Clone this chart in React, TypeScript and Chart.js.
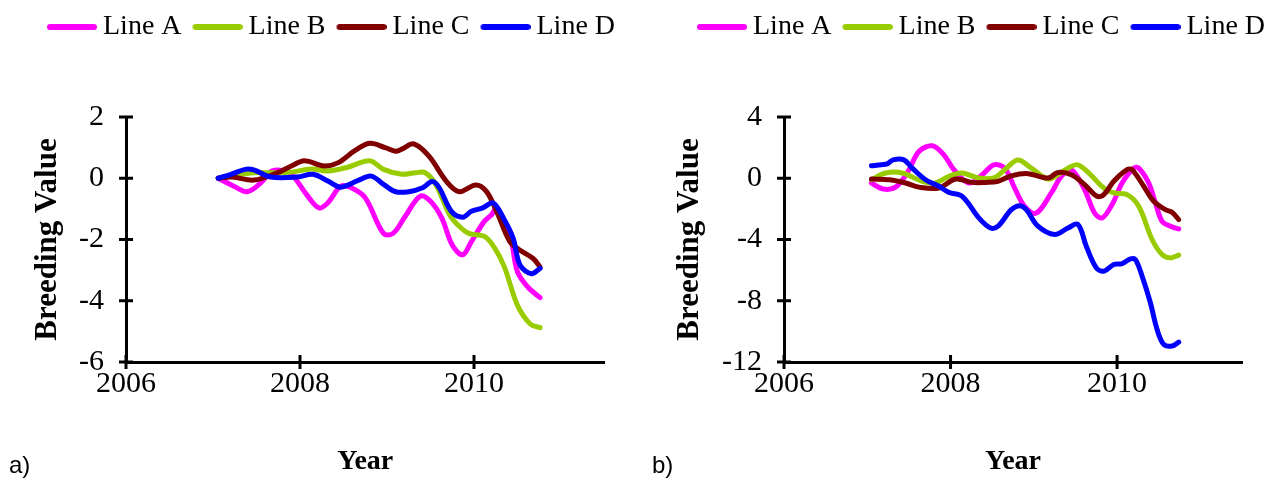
import React, { useEffect, useRef } from 'react';
import { Chart, registerables } from 'chart.js';

Chart.register(...registerables);

const seriesNames = ['Line A', 'Line B', 'Line C', 'Line D'];
const seriesColors = ['#FF00FF', '#99CC00', '#800000', '#0000FF'];
const xTickYears = [2006, 2008, 2010];
const aYTicks = [-6, -4, -2, 0, 2];
const bYTicks = [-12, -8, -4, 0, 4];

// Panel a
const aYearsA = [2007.06, 2007.24, 2007.39, 2007.55, 2007.68, 2007.86, 2007.93, 2008.08, 2008.22, 2008.32, 2008.47, 2008.59, 2008.75, 2008.96, 2009.07, 2009.21, 2009.38, 2009.5, 2009.63, 2009.75, 2009.87, 2009.97, 2010.12, 2010.2, 2010.26, 2010.36, 2010.43, 2010.5, 2010.62, 2010.76];
const aValsA = [0, -0.26, -0.44, -0.15, 0.24, 0.22, 0.05, -0.55, -0.97, -0.8, -0.26, -0.31, -0.64, -1.8, -1.8, -1.24, -0.59, -0.75, -1.3, -2.18, -2.5, -2.07, -1.4, -1.2, -0.97, -1.6, -2.07, -3.06, -3.56, -3.9];
const aYearsB = [2007.06, 2007.25, 2007.47, 2007.7, 2007.9, 2008.13, 2008.32, 2008.55, 2008.8, 2008.96, 2009.17, 2009.33, 2009.44, 2009.56, 2009.72, 2009.83, 2009.94, 2010.12, 2010.24, 2010.35, 2010.5, 2010.65, 2010.76];
const aValsB = [0, 0.1, 0.18, 0.18, 0.2, 0.3, 0.24, 0.36, 0.57, 0.29, 0.13, 0.18, 0.18, -0.2, -1.19, -1.57, -1.8, -1.9, -2.29, -2.9, -4.15, -4.77, -4.88];
const aYearsC = [2007.06, 2007.22, 2007.47, 2007.74, 2007.9, 2008.05, 2008.28, 2008.44, 2008.63, 2008.8, 2008.98, 2009.1, 2009.17, 2009.31, 2009.48, 2009.68, 2009.83, 2010.02, 2010.14, 2010.26, 2010.41, 2010.53, 2010.68, 2010.76];
const aValsC = [0, 0.04, -0.06, 0.18, 0.4, 0.57, 0.4, 0.51, 0.9, 1.14, 1.0, 0.88, 0.95, 1.12, 0.73, -0.09, -0.44, -0.22, -0.42, -1.08, -2.06, -2.35, -2.62, -2.9];
const aYearsD = [2007.06, 2007.2, 2007.37, 2007.47, 2007.66, 2007.97, 2008.15, 2008.32, 2008.47, 2008.67, 2008.82, 2008.96, 2009.1, 2009.25, 2009.41, 2009.52, 2009.6, 2009.74, 2009.87, 2009.97, 2010.1, 2010.22, 2010.35, 2010.45, 2010.53, 2010.66, 2010.76];
const aValsD = [0, 0.12, 0.29, 0.27, 0.04, 0.04, 0.13, -0.09, -0.29, -0.07, 0.07, -0.2, -0.44, -0.44, -0.31, -0.11, -0.31, -1.08, -1.27, -1.08, -0.97, -0.81, -1.36, -1.96, -2.84, -3.12, -2.94];

// Panel b
const bYearsA = [2007.05, 2007.19, 2007.34, 2007.49, 2007.62, 2007.78, 2007.92, 2008.04, 2008.22, 2008.38, 2008.52, 2008.65, 2008.77, 2008.89, 2009.03, 2009.21, 2009.33, 2009.45, 2009.61, 2009.73, 2009.82, 2009.94, 2010.06, 2010.2, 2010.26, 2010.38, 2010.46, 2010.54, 2010.64, 2010.74];
const bValsA = [-0.31, -0.7, -0.58, 0.45, 1.75, 2.12, 1.53, 0.56, -0.31, 0.23, 0.88, 0.66, -0.64, -1.83, -2.27, -0.96, 0.12, 0.56, -0.75, -2.27, -2.59, -1.72, -0.31, 0.66, 0.66, -0.31, -1.61, -2.81, -3.13, -3.31];
const bYearsB = [2007.05, 2007.22, 2007.42, 2007.66, 2007.82, 2007.98, 2008.14, 2008.34, 2008.53, 2008.67, 2008.81, 2008.97, 2009.17, 2009.29, 2009.41, 2009.53, 2009.68, 2009.84, 2009.96, 2010.12, 2010.26, 2010.42, 2010.54, 2010.64, 2010.74];
const bValsB = [-0.1, 0.34, 0.34, -0.2, -0.31, 0.12, 0.34, 0.01, 0.05, 0.66, 1.2, 0.66, -0.05, 0.23, 0.66, 0.88, 0.23, -0.64, -0.96, -1.07, -1.83, -4.0, -4.98, -5.2, -5.02];
const bYearsC = [2007.05, 2007.27, 2007.46, 2007.62, 2007.86, 2008.06, 2008.26, 2008.42, 2008.57, 2008.73, 2008.93, 2009.17, 2009.29, 2009.45, 2009.61, 2009.76, 2009.84, 2009.96, 2010.12, 2010.18, 2010.32, 2010.44, 2010.58, 2010.66, 2010.74];
const bValsC = [-0.05, -0.1, -0.31, -0.58, -0.64, -0.05, -0.27, -0.27, -0.2, 0.16, 0.3, 0.01, 0.38, 0.23, -0.42, -1.18, -1.07, -0.2, 0.56, 0.56, -0.52, -1.5, -2.05, -2.22, -2.7];
const bYearsD = [2007.05, 2007.17, 2007.24, 2007.31, 2007.44, 2007.54, 2007.7, 2007.86, 2007.98, 2008.14, 2008.34, 2008.48, 2008.57, 2008.73, 2008.83, 2008.91, 2009.05, 2009.25, 2009.41, 2009.53, 2009.63, 2009.75, 2009.84, 2009.96, 2010.06, 2010.16, 2010.22, 2010.3, 2010.4, 2010.48, 2010.56, 2010.66, 2010.74];
const bValsD = [0.81, 0.88, 0.94, 1.2, 1.2, 0.66, -0.1, -0.52, -0.92, -1.18, -2.59, -3.25, -3.13, -2.05, -1.79, -2.05, -3.13, -3.67, -3.25, -3.02, -4.44, -5.85, -6.07, -5.63, -5.57, -5.27, -5.31, -6.39, -8.13, -9.87, -10.85, -10.96, -10.7];

const SERIF = '"Liberation Serif", "Times New Roman", serif';
const SANS = '"Liberation Sans", Arial, sans-serif';
const LEGEND_PAD = 11;
const LEGEND_FONT = 28;

type PanelCfg = {
  years: number[][];
  vals: number[][];
  yMin: number;
  yMax: number;
  yTicks: number[];
  yAxisWidth: number;
  rightPad: number;
  yTickPad: number;
  yTitlePad: number;
  legendX: number;
  legendY: number;
  label: string;
  labelX: number;
};

function makeLegendImage(color: string): HTMLCanvasElement {
  const c = document.createElement('canvas');
  c.width = 58;
  c.height = 10;
  const g = c.getContext('2d')!;
  g.strokeStyle = color;
  g.lineWidth = 6;
  g.lineCap = 'round';
  g.beginPath();
  g.moveTo(11, 5);
  g.lineTo(55, 5);
  g.stroke();
  return c;
}

function buildChart(canvas: HTMLCanvasElement, cfg: PanelCfg, H: number): Chart {
  const images = seriesColors.map(makeLegendImage);
  const chartTop = 117;
  const chartBottom = 362;
  const decor = {
    id: 'decor',
    afterInit(chart: any) {
      const lg = chart.legend;
      const orig = lg.fit.bind(lg);
      lg.fit = () => {
        orig();
        lg.height = chartTop;
      };
    },
    afterLayout(chart: any) {
      const lg = chart.legend;
      const w = lg.right - lg.left;
      lg.left = cfg.legendX - LEGEND_PAD;
      lg.right = lg.left + w;
      lg.top = cfg.legendY - LEGEND_PAD - LEGEND_FONT / 2;
    },
    afterDraw(chart: any) {
      const ctx = chart.ctx as CanvasRenderingContext2D;
      const { left, bottom } = chart.chartArea;
      const xs = chart.scales.x;
      const ys = chart.scales.y;
      ctx.save();
      ctx.strokeStyle = '#000';
      ctx.lineWidth = 3;
      ctx.beginPath();
      xs.ticks.forEach((t: any) => {
        const px = xs.getPixelForValue(t.value);
        ctx.moveTo(px, bottom - 7);
        ctx.lineTo(px, bottom + 7);
      });
      ys.ticks.forEach((t: any) => {
        const py = ys.getPixelForValue(t.value);
        ctx.moveTo(left - 7, py);
        ctx.lineTo(left + 7, py);
      });
      ctx.stroke();
      ctx.fillStyle = '#000';
      ctx.font = `24px ${SANS}`;
      ctx.textAlign = 'left';
      ctx.textBaseline = 'middle';
      ctx.fillText(cfg.label, cfg.labelX, 466);
      ctx.restore();
    },
  };

  const datasets = seriesNames.map((name, i) => ({
    label: name,
    data: cfg.years[i].map((x, j) => ({ x, y: cfg.vals[i][j] })),
    borderColor: seriesColors[i],
    backgroundColor: seriesColors[i],
    borderWidth: 5,
    pointRadius: 0,
    tension: 0.35,
    borderCapStyle: 'round' as const,
    borderJoinStyle: 'round' as const,
    fill: false,
    order: 4 - i,
  }));

  return new Chart(canvas, {
    type: 'line',
    data: { datasets },
    plugins: [decor],
    options: {
      animation: false,
      responsive: false,
      maintainAspectRatio: false,
      events: [],
      layout: { padding: { left: 0, right: cfg.rightPad, top: 0, bottom: 0 } },
      plugins: {
        tooltip: { enabled: false },
        legend: {
          display: true,
          position: 'top',
          align: 'start',
          labels: {
            usePointStyle: true,
            pointStyleWidth: 42,
            padding: LEGEND_PAD,
            color: '#000',
            font: { family: SERIF, size: LEGEND_FONT },
            sort: (a: any, b: any) => a.datasetIndex - b.datasetIndex,
            generateLabels: (chart: any) => {
              const items = (Chart.defaults.plugins.legend.labels as any).generateLabels(chart);
              items.forEach((it: any) => {
                it.pointStyle = images[it.datasetIndex];
              });
              return items;
            },
          },
        },
      },
      scales: {
        x: {
          type: 'linear',
          min: 2006,
          max: 2011.5,
          afterFit: (s: any) => {
            s.height = H - chartBottom;
          },
          afterBuildTicks: (s: any) => {
            s.ticks = xTickYears.map((v) => ({ value: v }));
          },
          grid: { display: true, drawOnChartArea: false, drawTicks: false },
          border: { display: true, color: '#000', width: 3 },
          ticks: {
            padding: 4,
            color: '#000',
            font: { family: SERIF, size: 30 },
            callback: (v: any) => String(v),
            maxRotation: 0,
            autoSkip: false,
          },
          title: {
            display: true,
            text: 'Year',
            color: '#000',
            font: { family: SERIF, size: 28, weight: 'bold' },
            padding: { top: 0, bottom: 2 },
          },
        },
        y: {
          type: 'linear',
          min: cfg.yMin,
          max: cfg.yMax,
          afterFit: (s: any) => {
            s.width = cfg.yAxisWidth;
          },
          afterBuildTicks: (s: any) => {
            s.ticks = cfg.yTicks.map((v) => ({ value: v }));
          },
          grid: { display: true, drawOnChartArea: false, drawTicks: false },
          border: { display: true, color: '#000', width: 3 },
          ticks: {
            padding: cfg.yTickPad,
            color: '#000',
            font: { family: SERIF, size: 30 },
            callback: (v: any) => String(v),
            autoSkip: false,
          },
          title: {
            display: true,
            text: 'Breeding Value',
            color: '#000',
            font: { family: SERIF, size: 31, weight: 'bold' },
            padding: { top: cfg.yTitlePad, bottom: 0 },
          },
        },
      },
    } as any,
  });
}

const panelA: PanelCfg = {
  years: [aYearsA, aYearsB, aYearsC, aYearsD],
  vals: [aValsA, aValsB, aValsC, aValsD],
  yMin: -6,
  yMax: 2,
  yTicks: aYTicks,
  yAxisWidth: 126,
  rightPad: 31.5,
  yTickPad: 22,
  yTitlePad: 29,
  legendX: 47,
  legendY: 27,
  label: 'a)',
  labelX: 9,
};

const panelB: PanelCfg = {
  years: [bYearsA, bYearsB, bYearsC, bYearsD],
  vals: [bValsA, bValsB, bValsC, bValsD],
  yMin: -12,
  yMax: 4,
  yTicks: bYTicks,
  yAxisWidth: 148,
  rightPad: 31,
  yTickPad: 22,
  yTitlePad: 35,
  legendX: 61,
  legendY: 27,
  label: 'b)',
  labelX: 16,
};

const H = 481;

export default function App() {
  const refA = useRef<HTMLCanvasElement>(null);
  const refB = useRef<HTMLCanvasElement>(null);
  useEffect(() => {
    const ca = buildChart(refA.current!, panelA, H);
    const cb = buildChart(refB.current!, panelB, H);
    return () => {
      ca.destroy();
      cb.destroy();
    };
  }, []);
  return (
    <div style={{ position: 'fixed', left: 0, top: 0, width: 1273, height: H, background: '#fff' }}>
      <canvas ref={refA} width={636} height={H} style={{ position: 'absolute', left: 0, top: 0, width: 636, height: H }} />
      <canvas ref={refB} width={637} height={H} style={{ position: 'absolute', left: 636, top: 0, width: 637, height: H }} />
    </div>
  );
}
